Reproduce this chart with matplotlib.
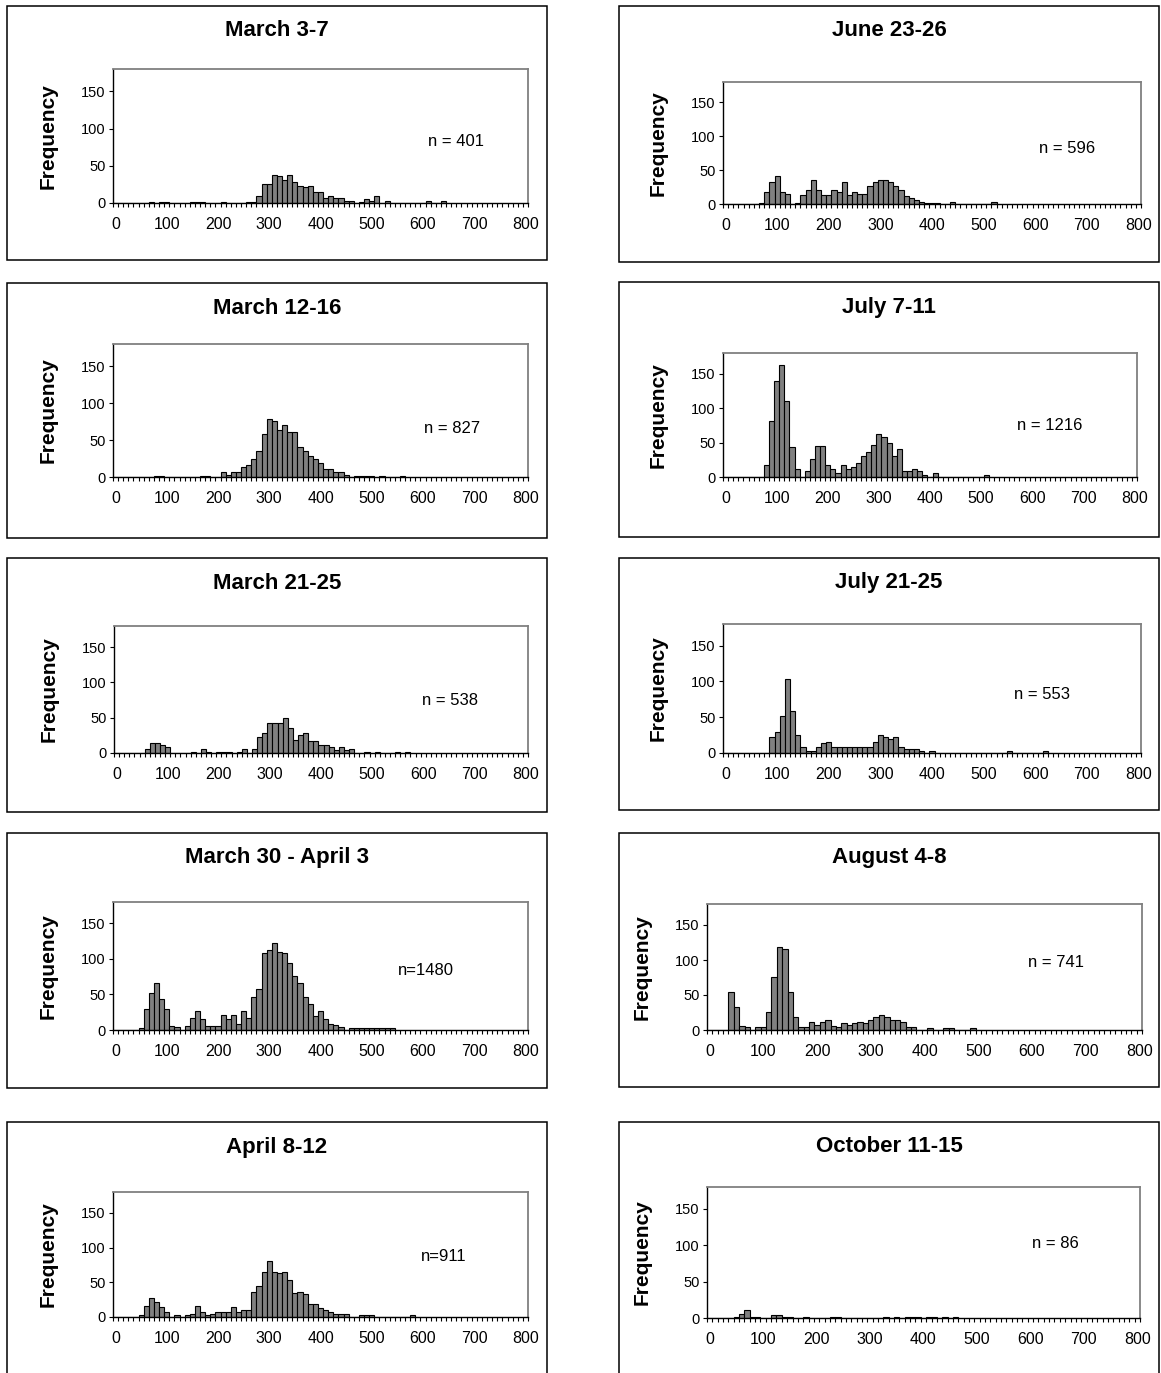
import numpy as np
import matplotlib
matplotlib.use("Agg")
import matplotlib.pyplot as plt
from matplotlib.patches import Rectangle
from matplotlib.ticker import MultipleLocator, FixedLocator

plt.rcParams['font.family'] = ['Liberation Sans', 'DejaVu Sans']

# counts per 10-unit class, starting at class 0 (0, 10, 20, ...); trailing zeros omitted
march_3_7 = [0, 0, 0, 0, 0, 0, 0, 2, 0, 2,
             2, 0, 0, 0, 0, 2, 2, 2, 0, 0,
             0, 2, 0, 0, 0, 0, 2, 2, 9, 25,
             25, 38, 36, 31, 38, 28, 23, 21, 23, 15,
             15, 7, 9, 7, 7, 3, 3, 0, 2, 6,
             3, 9, 0, 3, 0, 0, 0, 0, 0, 0,
             0, 3, 0, 0, 3]
march_12_16 = [0, 0, 0, 0, 0, 0, 0, 0, 2, 2,
               0, 0, 0, 0, 0, 0, 0, 2, 2, 0,
               0, 7, 3, 7, 7, 13, 16, 24, 35, 58,
               78, 76, 64, 70, 61, 61, 40, 35, 29, 24,
               19, 11, 11, 7, 7, 3, 0, 2, 2, 2,
               2, 0, 2, 0, 0, 0, 2]
march_21_25 = [0, 0, 0, 0, 0, 0, 6, 14, 14, 11,
               8, 0, 0, 0, 0, 2, 0, 5, 2, 0,
               2, 2, 2, 0, 2, 5, 0, 5, 23, 29,
               42, 42, 42, 49, 35, 19, 25, 28, 17, 17,
               11, 11, 8, 4, 8, 4, 5, 0, 0, 2,
               0, 2, 0, 0, 0, 2, 0, 2]
march30_april3 = [0, 0, 0, 0, 0, 3, 29, 52, 66, 44,
                  29, 6, 4, 0, 6, 17, 27, 15, 6, 5,
                  6, 21, 15, 21, 9, 27, 17, 46, 57, 108,
                  113, 122, 110, 108, 94, 76, 66, 46, 37, 20,
                  27, 15, 9, 7, 4, 0, 3, 3, 3, 3,
                  3, 3, 3, 3, 3]
april_8_12 = [0, 0, 0, 0, 0, 3, 16, 28, 22, 14,
              7, 0, 3, 0, 3, 5, 16, 7, 3, 5,
              7, 7, 7, 14, 7, 10, 10, 36, 45, 65,
              80, 65, 63, 65, 54, 34, 36, 33, 19, 19,
              13, 10, 7, 5, 5, 5, 0, 0, 3, 3,
              3, 0, 0, 0, 0, 0, 0, 0, 3]
june_23_26 = [0, 0, 0, 0, 0, 0, 0, 2, 18, 32,
              41, 18, 15, 0, 2, 13, 21, 36, 21, 13,
              13, 21, 18, 32, 14, 18, 15, 15, 27, 32,
              36, 36, 32, 27, 21, 12, 9, 6, 3, 2,
              2, 2, 0, 0, 3, 0, 0, 0, 0, 0,
              0, 0, 3]
july_7_11 = [0, 0, 0, 0, 0, 0, 0, 0, 17, 81,
             139, 162, 110, 43, 12, 0, 8, 26, 45, 45,
             17, 12, 6, 17, 11, 14, 20, 31, 37, 46,
             63, 58, 49, 31, 40, 8, 8, 12, 8, 3,
             0, 6, 0, 0, 0, 0, 0, 0, 0, 0,
             0, 3]
july_21_25 = [0, 0, 0, 0, 0, 0, 0, 0, 0, 22,
              30, 52, 103, 58, 25, 8, 3, 3, 8, 14,
              16, 8, 8, 8, 8, 8, 8, 8, 8, 16,
              25, 22, 20, 22, 8, 6, 6, 6, 3, 0,
              3, 0, 0, 0, 0, 0, 0, 0, 0, 0,
              0, 0, 0, 0, 0, 3, 0, 0, 0, 0,
              0, 0, 3]
august_4_8 = [0, 0, 0, 0, 55, 33, 6, 4, 0, 4,
              4, 26, 76, 118, 116, 55, 18, 4, 4, 12,
              7, 12, 14, 6, 4, 10, 7, 10, 12, 10,
              15, 18, 21, 18, 15, 15, 12, 4, 4, 0,
              0, 3, 0, 0, 3, 3, 0, 0, 0, 3]
october_11_15 = [0, 0, 0, 0, 0, 2, 5, 11, 2, 2,
                 0, 0, 4, 4, 2, 2, 0, 0, 2, 0,
                 0, 0, 0, 2, 2, 0, 0, 0, 0, 0,
                 0, 0, 0, 2, 0, 2, 0, 2, 2, 2,
                 0, 2, 2, 0, 2, 0, 2]

titles = ["March 3-7", "March 12-16", "March 21-25", "March 30 - April 3", "April 8-12",
          "June 23-26", "July 7-11", "July 21-25", "August 4-8", "October 11-15"]
n_labels = ["n = 401", "n = 827", "n = 538", "n=1480", "n=911",
            "n = 596", "n = 1216", "n = 553", "n = 741", "n = 86"]
series = [march_3_7, march_12_16, march_21_25, march30_april3, april_8_12,
          june_23_26, july_7_11, july_21_25, august_4_8, october_11_15]

# layout, in pixels of the 1161 x 1373 picture
W, H = 1161, 1373
# plot area: left, right, top, bottom
axes_px = [(113, 528, 69, 203), (113, 528, 344, 477), (114, 528, 626, 753),
           (113, 528, 902, 1030), (113, 528, 1192, 1317),
           (723, 1141, 82, 204), (723, 1137, 353, 477), (723, 1141, 624, 753),
           (707, 1142, 904, 1030), (707, 1140, 1187, 1318)]
# outer frames: left, right, top, bottom
box_px = [(7, 547, 6, 260), (7, 547, 283, 538), (7, 547, 558, 812),
          (7, 547, 833, 1088), (7, 547, 1122, 1400),
          (619, 1159, 6, 262), (619, 1159, 282, 537), (619, 1159, 558, 810),
          (619, 1159, 833, 1087), (619, 1159, 1122, 1400)]
title_y = [30, 308, 583, 857, 1147, 31, 307, 582, 857, 1147]
n_pos = [(664, 82), (656, 66), (652, 74), (605, 84), (641, 87),
         (661, 82), (635, 75), (613, 81), (644, 97), (647, 102)]

fig = plt.figure(figsize=(W / 100, H / 100), dpi=100)

for i in range(10):
    # frame around each chart
    l, r, t, b = box_px[i]
    fig.patches.append(Rectangle((l / W, 1 - b / H), (r - l) / W, (b - t) / H,
                                 transform=fig.transFigure, fill=False,
                                 edgecolor='black', linewidth=1.1))

    l, r, t, b = axes_px[i]
    ax = fig.add_axes([l / W, 1 - b / H, (r - l) / W, (b - t) / H])
    vals = series[i]
    x = np.arange(len(vals)) * 10
    ax.bar(x, vals, width=10, color='#808080', edgecolor='black', linewidth=0.8)

    ax.set_xlim(-5, 805)
    ax.set_ylim(0, 180)
    ax.set_yticks([0, 50, 100, 150])
    ax.xaxis.set_major_locator(MultipleLocator(100))
    ax.xaxis.set_minor_locator(FixedLocator(np.arange(-5, 806, 10)))
    ax.tick_params(axis='x', which='major', length=0, pad=10, labelsize=11.5)
    ax.tick_params(axis='x', which='minor', length=3, width=0.8, direction='out')
    ax.tick_params(axis='y', length=3, width=0.8, pad=2.5, labelsize=10.5)

    for side in ['top', 'right']:
        ax.spines[side].set_color('#808080')
        ax.spines[side].set_linewidth(1.3)
    for side in ['left', 'bottom']:
        ax.spines[side].set_color('black')
        ax.spines[side].set_linewidth(1.0)

    ax.text(n_pos[i][0], n_pos[i][1], n_labels[i], ha='center', va='center', fontsize=12)

    # title and y label sit in the frame, outside the plot area
    bl, br = box_px[i][0], box_px[i][1]
    fig.text((bl + br) / 2 / W, 1 - title_y[i] / H, titles[i], ha='center', va='center',
             fontsize=16, fontweight='bold')
    fig.text((l - 65) / W, 1 - (t + b) / 2 / H, 'Frequency', rotation=90,
             ha='center', va='center', fontsize=15, fontweight='bold')

fig.savefig("out.png", dpi=100)
